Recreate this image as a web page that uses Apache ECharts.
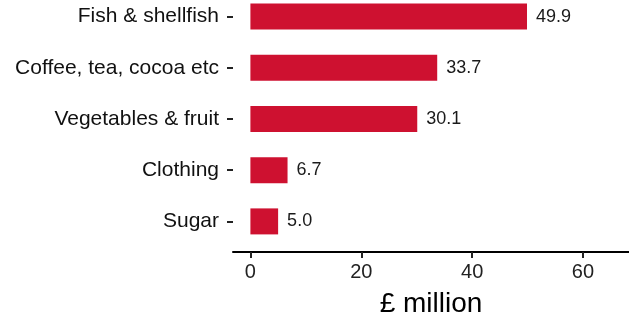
<!DOCTYPE html>
<html>
<head>
<meta charset="utf-8">
<script src="https://cdn.jsdelivr.net/npm/echarts@6/dist/echarts.min.js"></script>
<style>
  html, body { margin: 0; padding: 0; background: #fff; }
  #chart { width: 629px; height: 319px; }
</style>
</head>
<body>
<div id="chart"></div>
<script>
const categories = ['Fish & shellfish', 'Coffee, tea, cocoa etc', 'Vegetables & fruit', 'Clothing', 'Sugar']
const values = [49.9, 33.7, 30.1, 6.7, 5.0]
const xTicks = [0, 20, 40, 60]

const myChart = echarts.init(document.getElementById('chart'))
const font = 'Liberation Sans, Arial, sans-serif'

const option = {
  backgroundColor: '#fff',
  animation: false,
  grid: {
    left: 233,
    right: 0,
    top: -9,
    height: 256,
    containLabel: false,
    outerBoundsMode: 'none'
  },
  xAxis: {
    type: 'value',
    min: -3.14,
    max: 68.3,
    offset: 5,
    name: '£ million',
    nameLocation: 'middle',
    nameGap: 38,
    nameTextStyle: { fontSize: 28, color: '#000', fontFamily: font },
    splitLine: { show: false },
    axisLine: { show: true, lineStyle: { color: '#000', width: 2 } },
    axisTick: { show: true, length: 6, lineStyle: { color: '#222', width: 2 }, customValues: xTicks },
    axisLabel: { fontSize: 20, color: '#222', margin: 10, fontFamily: font, customValues: xTicks }
  },
  yAxis: {
    type: 'category',
    inverse: true,
    data: categories,
    axisLine: { show: false, onZero: false },
    axisTick: { show: true, alignWithLabel: true, length: 6, lineStyle: { color: '#222', width: 2 } },
    axisLabel: { fontSize: 21, color: '#111', margin: 14, fontFamily: font }
  },
  series: [
    {
      type: 'bar',
      data: values,
      barWidth: 26,
      itemStyle: { color: '#ce1130' },
      label: {
        show: true,
        position: 'right',
        distance: 9,
        fontSize: 18,
        color: '#1a1a1a',
        fontFamily: font,
        formatter: p => p.value.toFixed(1)
      }
    }
  ]
}

option && myChart.setOption(option)
</script>
</body>
</html>
